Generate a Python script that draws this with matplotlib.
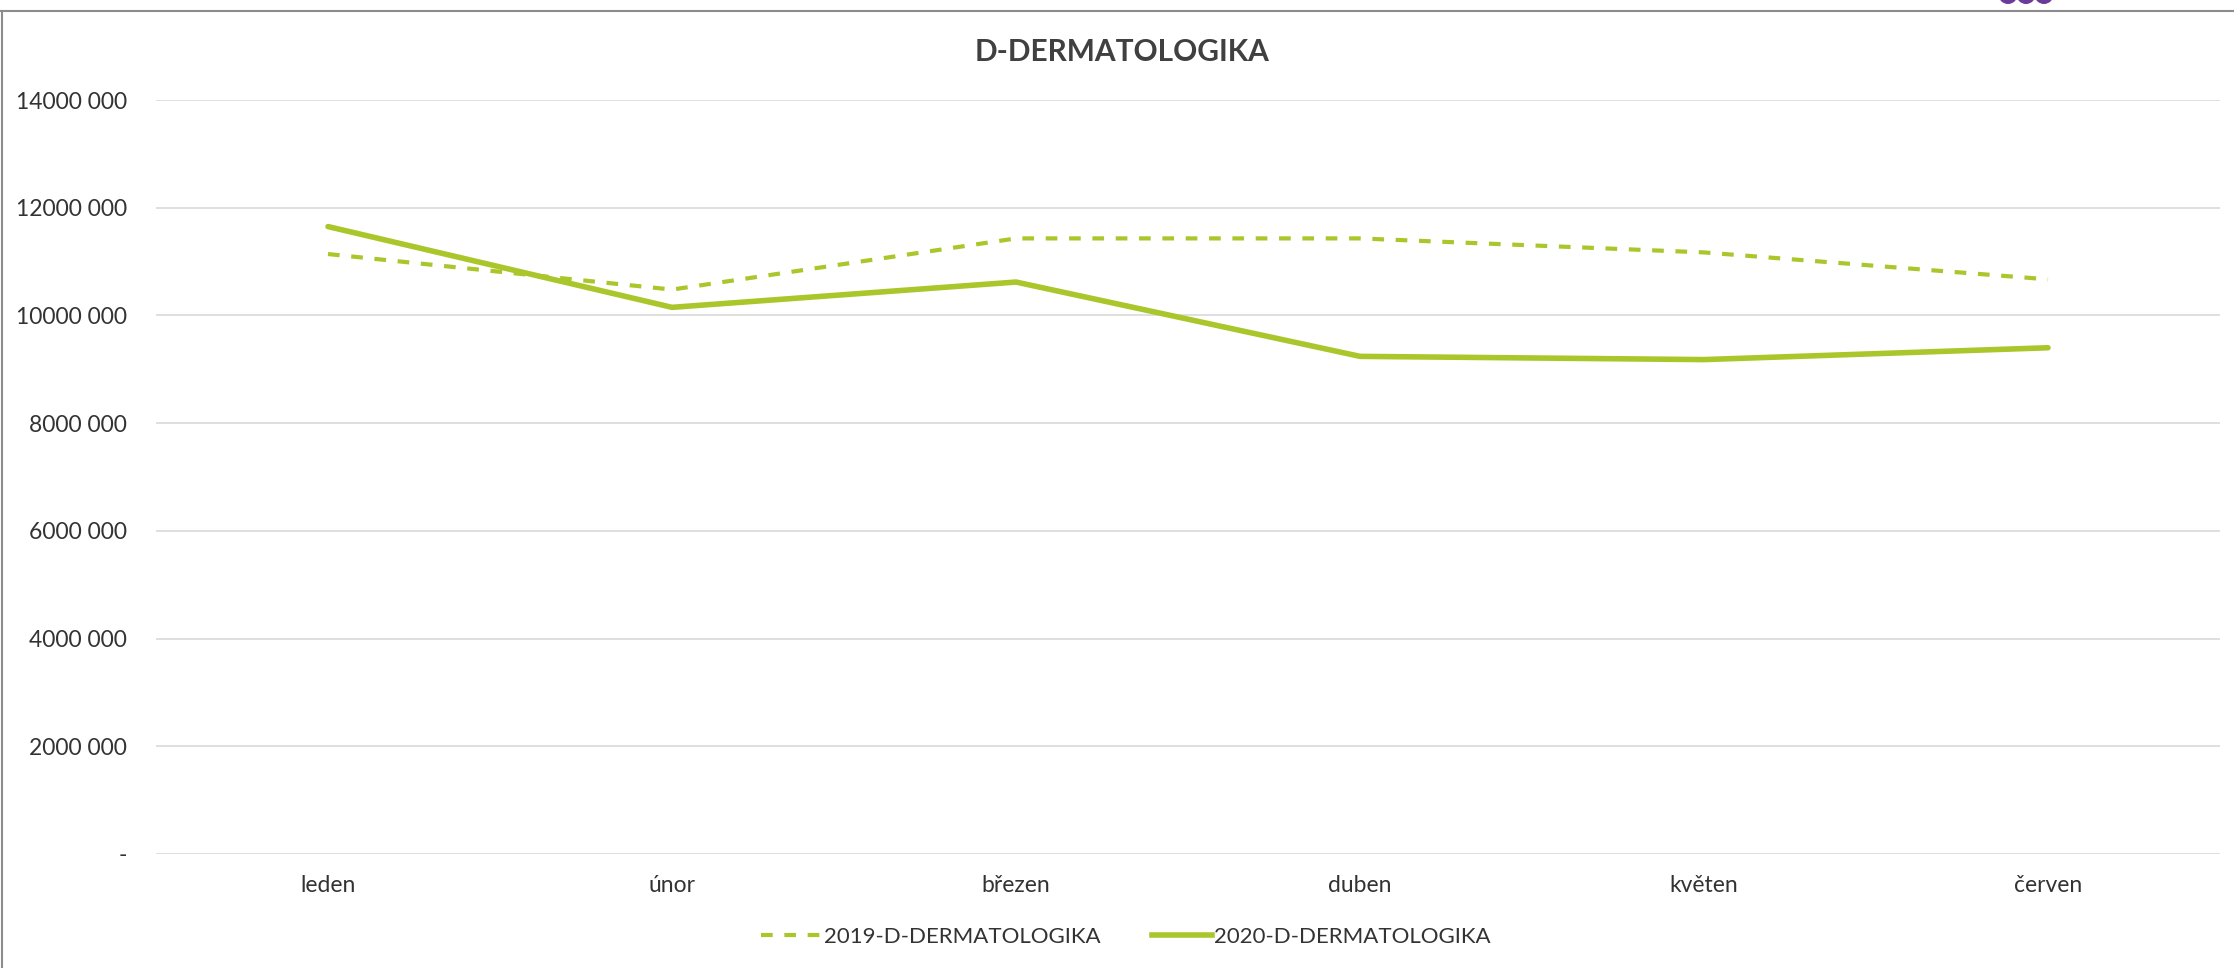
import matplotlib
matplotlib.use("Agg")
import matplotlib.pyplot as plt
from matplotlib.lines import Line2D
from matplotlib.patches import Circle

months = ["leden", "únor", "březen", "duben", "květen", "červen"]
values_2019 = [11140000, 10480000, 11430000, 11430000, 11170000, 10670000]
values_2020 = [11650000, 10150000, 10620000, 9240000, 9180000, 9400000]
series_names = ["2019-D-DERMATOLOGIKA", "2020-D-DERMATOLOGIKA"]
y_ticks = [0, 2000000, 4000000, 6000000, 8000000, 10000000, 12000000, 14000000]
y_tick_labels = ["-", "2000 000", "4000 000", "6000 000", "8000 000",
                 "10000 000", "12000 000", "14000 000"]
title = "D-DERMATOLOGIKA"

GREEN = "#a9c62b"
TXT = "#333333"
plt.rcParams["font.family"] = ["Lato", "DejaVu Sans"]

W, H = 2234, 968
fig = plt.figure(figsize=(W / 100, H / 100), dpi=100)
ax = fig.add_axes([156 / W, 1 - 854 / H, (2220 - 156) / W, (854 - 100) / H])

x = list(range(len(months)))
ax.plot(x, values_2019, color=GREEN, lw=3.0, ls=(0, (2.8, 2.8)),
        dash_capstyle="butt", label=series_names[0], zorder=3)
ax.plot(x, values_2020, color=GREEN, lw=4.0, solid_capstyle="round",
        solid_joinstyle="round", label=series_names[1], zorder=4)

ax.set_xlim(-0.5, len(months) - 0.5)
ax.set_ylim(0, 14000000)
ax.set_yticks(y_ticks)
ax.set_yticklabels(y_tick_labels)
ax.set_xticks(x)
ax.set_xticklabels(months)
ax.tick_params(axis="both", length=0, labelsize=16.5, colors=TXT)
ax.tick_params(axis="y", pad=21)
ax.tick_params(axis="x", pad=15)
ax.grid(axis="y", color="#d9d9d9", lw=1.2)
ax.set_axisbelow(True)
for s in ax.spines.values():
    s.set_visible(False)

fig.text(1122 / W, 1 - 52 / H, title, ha="center", va="center",
         fontsize=21.5, fontweight="bold", color="#404040")

handles = [Line2D([], [], color=GREEN, lw=3.0, ls=(0, (2.8, 2.8))),
           Line2D([], [], color=GREEN, lw=4.0)]
leg = fig.legend(handles, series_names, loc="center", ncol=2,
                 bbox_to_anchor=(1126 / W, 1 - 937 / H), frameon=False,
                 fontsize=16, handlelength=2.7, handletextpad=0.12,
                 columnspacing=2.3, labelcolor=TXT)

# outer frame (partially visible)
fig.add_artist(Line2D([1.5 / W, 1.5 / W], [0, 1 - 11 / H], color="#8c8c8c",
                      lw=1.5, transform=fig.transFigure))
fig.add_artist(Line2D([0, 1], [1 - 11 / H, 1 - 11 / H], color="#8c8c8c",
                      lw=1.5, transform=fig.transFigure))
# purple dots cut off at the top
for cx in (2008, 2026, 2044):
    fig.add_artist(Circle((cx, H + 5.5), 8.8, color="#6b3a9b",
                          transform=None))

fig.savefig("out.png", dpi=100)
